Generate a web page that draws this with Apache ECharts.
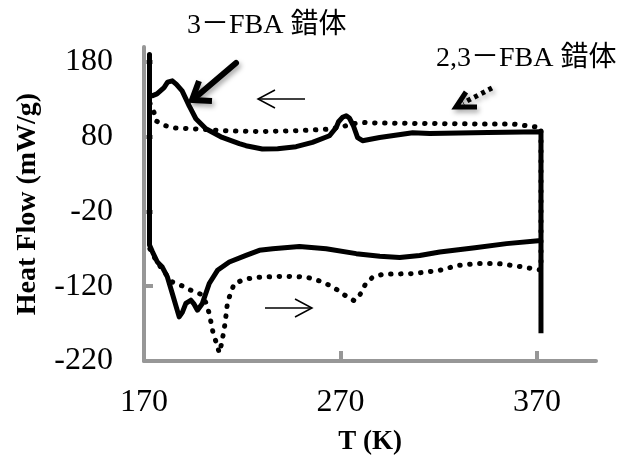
<!DOCTYPE html>
<html>
<head>
<meta charset="utf-8">
<script src="https://cdn.jsdelivr.net/npm/echarts@6/dist/echarts.min.js"></script>
<style>
  html, body { margin: 0; padding: 0; background: #fff; }
  #chart { width: 630px; height: 458px; }
</style>
</head>
<body>
<div id="chart"></div>
<script>
// 轴刻度
const xTicks = [170, 270, 370]
const yTicks = [-220, -120, -20, 80, 180]

// 3-FBA 錯体 (实线): 冷却 (从右到左) + 升温 (从左到右)
const fba3Cool = [
  [372, -183], [372, 86.7], [345, 85.5], [315.4, 84.4], [306.7, 85.3], [289.9, 79],
  [281.2, 74.7], [278.7, 78.7], [276.5, 95], [274.5, 105], [272.9, 108], [271, 106],
  [269, 100], [267.8, 92.4], [264.4, 81.3], [255.7, 72.4], [247.4, 66.7], [238, 64],
  [230.2, 63.6], [221.9, 68], [218.5, 70.7], [209.8, 79], [201.5, 90.7], [196.4, 104],
  [193, 121.3], [189.4, 141.3], [186.5, 150], [184.4, 154.7], [182, 153], [180.2, 145.7],
  [176.6, 137.3], [174.1, 134.7], [172.8, 136], [172.8, 190]
]
const fba3Heat = [
  [172.8, -65], [174.3, -74], [176.8, -87.6], [179.3, -94.3], [181.9, -107.6],
  [184.4, -129.7], [187.9, -161], [189.5, -155], [191.3, -143], [193.8, -138.7],
  [195.5, -144], [197.2, -152], [199.7, -143], [203.2, -116.4], [207.4, -98.7],
  [213.4, -87.6], [221.9, -78.7], [228.7, -72], [235.5, -69.8], [249.1, -66.7],
  [262.7, -69.8], [278, -76.4], [290, -80], [300.1, -81.7], [310.3, -79], [320.5, -74.3],
  [338.4, -68.4], [354.5, -63], [372, -58.7]
]

// 2,3-FBA 錯体 (点线)
const fba23Heat = [
  [173, -70], [176, -85], [180, -100], [184.4, -114.3], [189.5, -119.6], [193.8, -125.3],
  [198.9, -130.7], [201.5, -142], [203.2, -156.4], [205.2, -183], [206.9, -196.4],
  [208.3, -209], [209.6, -195.6], [211.3, -169], [212.5, -141], [215.9, -116.4],
  [221, -111], [226.1, -108.4], [231.2, -107.6], [241.4, -106.7], [252.5, -107.6],
  [259.3, -112.9], [264.4, -118.7], [268.6, -125.3], [272.9, -133.3], [277.1, -139.6],
  [280.6, -128.9], [282.8, -116.4], [286.5, -107.6], [291.5, -104], [306.9, -103.1],
  [320.5, -98.7], [329.9, -92], [340, -89.7], [350.2, -89.7], [360.5, -93.3],
  [370.7, -97.8], [372, -98]
]
const fba23Cool = [
  [372, 92], [369, 93.3], [357.8, 97], [340.9, 97], [320, 97.5], [300, 98], [288.9, 98.3],
  [281.2, 99], [275, 97], [271.2, 93.3], [264.4, 90.2], [247.4, 88], [230.2, 87],
  [213.4, 87.6], [198.1, 90.2], [186.2, 91.6], [181, 94.7], [176, 101.3], [175.1, 112.4],
  [174.2, 117], [173, 125]
]

const serif = "'Liberation Serif', 'Noto Sans CJK JP', serif"
const axisGray = "#979797"
const shadow = {
  shadowBlur: 5,
  shadowColor: "rgba(0,0,0,0.35)",
  shadowOffsetX: 2,
  shadowOffsetY: 3,
}

let myChart = echarts.init(document.getElementById("chart"))

myChart.setOption({
  animation: false,
  grid: {
    left: 144,
    right: 34,
    top: 47,
    bottom: 97,
    containLabel: false,
    outerBoundsMode: "none",
  },
  xAxis: {
    type: "value",
    min: 170,
    max: 400,
    name: "T (K)",
    nameLocation: "middle",
    nameGap: 68,
    nameTextStyle: {
      fontFamily: serif,
      fontWeight: "bold",
      fontSize: 27,
      color: "#000",
    },
    splitLine: { show: false },
    axisLine: {
      onZero: false,
      lineStyle: { color: axisGray, width: 4 },
    },
    axisTick: {
      inside: true,
      length: 10,
      customValues: xTicks,
      lineStyle: { color: axisGray, width: 4 },
    },
    axisLabel: {
      customValues: xTicks,
      margin: 26,
      fontFamily: serif,
      fontSize: 32,
      color: "#000",
    },
  },
  yAxis: {
    type: "value",
    min: -220,
    max: 200,
    name: "Heat Flow (mW/g)",
    nameLocation: "middle",
    nameRotate: 90,
    nameGap: 102,
    nameTextStyle: {
      fontFamily: serif,
      fontWeight: "bold",
      fontSize: 28,
      color: "#000",
    },
    splitLine: { show: false },
    axisLine: {
      show: true,
      onZero: false,
      lineStyle: { color: axisGray, width: 4 },
    },
    axisTick: {
      show: true,
      inside: true,
      length: 9,
      customValues: yTicks,
      lineStyle: { color: axisGray, width: 4 },
    },
    axisLabel: {
      customValues: yTicks,
      margin: 31,
      fontFamily: serif,
      fontSize: 32,
      color: "#000",
    },
  },
  series: [
    {
      name: "2,3-FBA 錯体",
      type: "line",
      data: fba23Heat.concat(fba23Cool),
      showSymbol: false,
      lineStyle: {
        color: "#000",
        width: 5,
        type: [0.5, 9.5],
        cap: "round",
      },
    },
    {
      name: "3-FBA 錯体",
      type: "line",
      data: fba3Cool.concat(fba3Heat),
      showSymbol: false,
      lineStyle: {
        color: "#000",
        width: 5,
        join: "round",
      },
    },
  ],
  graphic: [
    {
      type: "text",
      left: 187,
      top: 12,
      style: { text: "3－FBA 錯体", font: "28px " + serif, fill: "#000" },
    },
    {
      type: "text",
      left: 436,
      top: 45,
      style: { text: "2,3－FBA 錯体", font: "28px " + serif, fill: "#000" },
    },
    // 粗箭头
    {
      type: "line",
      shape: { x1: 236, y1: 63, x2: 196, y2: 97 },
      style: Object.assign({ stroke: "#000", lineWidth: 6, lineCap: "round" }, shadow),
    },
    {
      type: "polyline",
      shape: { points: [[199, 81], [192, 100], [212, 101]] },
      style: Object.assign({ stroke: "#000", lineWidth: 6, fill: null }, shadow),
    },
    // 冷却方向 ←
    {
      type: "line",
      shape: { x1: 258, y1: 99, x2: 305, y2: 99 },
      style: { stroke: "#000", lineWidth: 1.5 },
    },
    {
      type: "polyline",
      shape: { points: [[275, 90], [258, 99], [275, 108]] },
      style: { stroke: "#000", lineWidth: 1.5, fill: null },
    },
    // 升温方向 →
    {
      type: "line",
      shape: { x1: 265, y1: 308, x2: 312, y2: 308 },
      style: { stroke: "#000", lineWidth: 1.5 },
    },
    {
      type: "polyline",
      shape: { points: [[295, 299], [312, 308], [295, 317]] },
      style: { stroke: "#000", lineWidth: 1.5, fill: null },
    },
    // 点线箭头
    {
      type: "line",
      shape: { x1: 492, y1: 88, x2: 463, y2: 103 },
      style: Object.assign({ stroke: "#000", lineWidth: 5, lineDash: [4, 4] }, shadow),
    },
    {
      type: "polyline",
      shape: { points: [[466, 92], [456, 107], [477, 107]] },
      style: Object.assign({ stroke: "#000", lineWidth: 5, fill: null }, shadow),
    },
  ],
})
</script>
</body>
</html>
